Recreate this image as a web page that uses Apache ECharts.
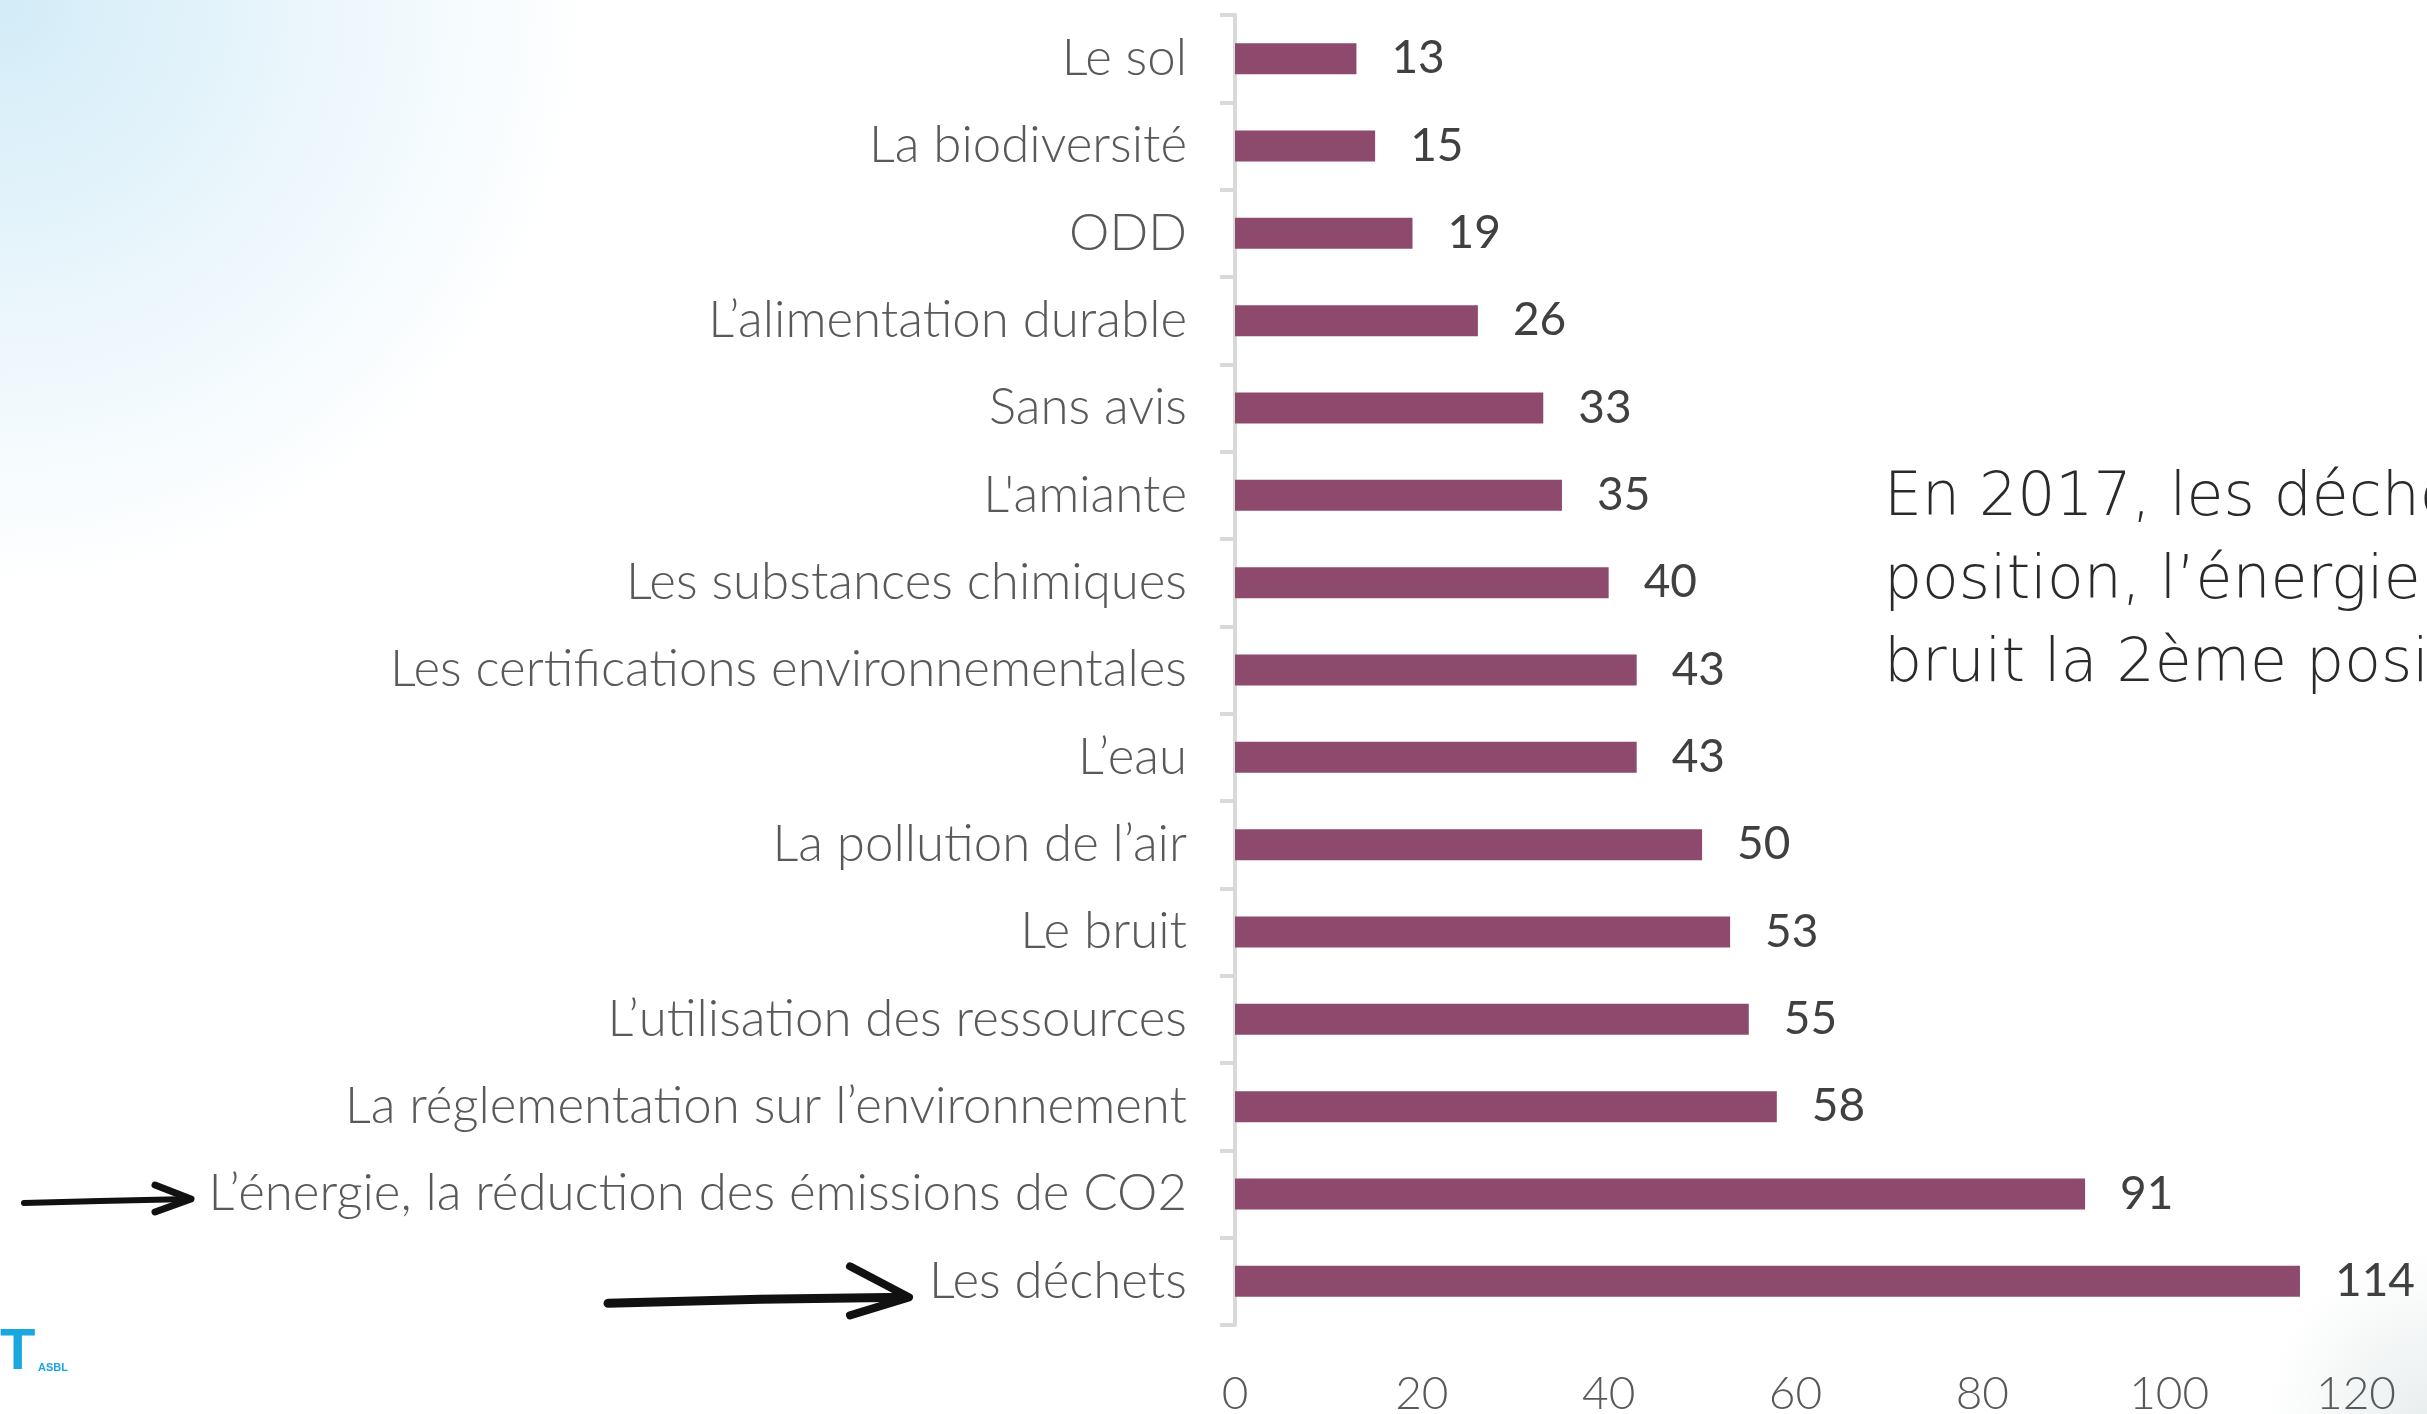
<!DOCTYPE html>
<html>
<head>
<meta charset="utf-8">
<script src="https://cdn.jsdelivr.net/npm/echarts@6/dist/echarts.min.js"></script>
<style>
  html, body { margin: 0; padding: 0; }
  body {
    width: 2427px;
    height: 1414px;
    background:
      radial-gradient(circle at 0 0, #d3ecf8 0, rgba(255,255,255,0) 590px),
      radial-gradient(circle at 100% 100%, #e9eeee 0, rgba(255,255,255,0) 160px),
      #ffffff;
  }
  #chart { width: 2427px; height: 1414px; }
</style>
</head>
<body>
<div id="chart"></div>
<script>
// thèmes environnementaux, du haut vers le bas
const categories = [
  'Le sol',
  'La biodiversité',
  'ODD',
  'L’alimentation durable',
  'Sans avis',
  "L'amiante",
  'Les substances chimiques',
  'Les certifications environnementales',
  'L’eau',
  'La pollution de l’air',
  'Le bruit',
  'L’utilisation des ressources',
  'La réglementation sur l’environnement',
  'L’énergie, la réduction des émissions de CO2',
  'Les déchets'
]
const values = [13, 15, 19, 26, 33, 35, 40, 43, 43, 50, 53, 55, 58, 91, 114]

const xMin = 0
const xMax = 120
const xStep = 20

const noteLines = [
  'En 2017, les déchets',
  'position, l’énergie',
  'bruit la 2ème position'
]

const barColor = '#8E4A6D'
const labelFont = 'Lato, "Open Sans", sans-serif'

const chart = echarts.init(document.getElementById('chart'), null, { renderer: 'canvas' })

const option = {
  backgroundColor: 'transparent',
  animation: false,
  grid: {
    left: 1235,
    right: 71,
    top: 15,
    bottom: 89,
    // pas de réduction automatique de la grille (v6)
    outerBoundsMode: 'none'
  },
  xAxis: {
    type: 'value',
    min: xMin,
    max: xMax,
    interval: xStep,
    axisLine: { show: false },
    axisTick: { show: false },
    splitLine: { show: false },
    axisLabel: {
      margin: 46,
      color: '#595959',
      fontSize: 46,
      fontWeight: 300,
      fontFamily: labelFont
    }
  },
  yAxis: {
    type: 'category',
    inverse: true,
    data: categories,
    axisLine: {
      show: true,
      lineStyle: { color: '#d9d9d9', width: 4 }
    },
    axisTick: {
      show: true,
      length: 15,
      lineStyle: { color: '#d9d9d9', width: 4 }
    },
    axisLabel: {
      margin: 48,
      color: '#595959',
      fontSize: 51,
      fontWeight: 300,
      fontFamily: labelFont
    }
  },
  series: [
    {
      type: 'bar',
      data: values,
      barWidth: 31,
      itemStyle: { color: barColor },
      label: {
        show: true,
        position: 'right',
        distance: 35,
        color: '#404040',
        fontSize: 46,
        fontFamily: labelFont
      }
    }
  ]
}

chart.setOption(option)

// annotations : flèches dessinées à la main, texte de droite, logo
const yEnergie = chart.convertToPixel({ yAxisIndex: 0 }, categories[13])
const yDechets = chart.convertToPixel({ yAxisIndex: 0 }, categories[14])

const arrowStyle = { stroke: '#111111', fill: null, lineCap: 'round', lineJoin: 'round' }

chart.setOption({
  graphic: [
    {
      type: 'polyline',
      shape: { points: [[24, yEnergie + 9], [100, yEnergie + 7], [190, yEnergie + 5]] },
      style: Object.assign({}, arrowStyle, { lineWidth: 6 })
    },
    {
      type: 'polyline',
      shape: { points: [[155, yEnergie - 9], [191, yEnergie + 5], [155, yEnergie + 18]] },
      style: Object.assign({}, arrowStyle, { lineWidth: 7 })
    },
    {
      type: 'polyline',
      shape: { points: [[608, yDechets + 22], [760, yDechets + 18], [906, yDechets + 16]] },
      style: Object.assign({}, arrowStyle, { lineWidth: 9 })
    },
    {
      type: 'polyline',
      shape: { points: [[850, yDechets - 15], [909, yDechets + 16], [850, yDechets + 34]] },
      style: Object.assign({}, arrowStyle, { lineWidth: 8 })
    },
    {
      type: 'group',
      left: 1884,
      top: 469,
      children: noteLines.map((t, i) => ({
        type: 'text',
        x: 0,
        y: i * 83,
        style: {
          text: t,
          fill: '#2a2a2a',
          fontSize: 60,
          fontWeight: 300,
          fontFamily: '"DejaVu Sans", sans-serif'
        }
      }))
    },
    {
      type: 'text',
      left: 0,
      top: 1324,
      style: {
        text: 'T',
        fill: '#1aa7df',
        fontSize: 58,
        fontWeight: 'bold',
        fontFamily: '"Liberation Sans Narrow", "Liberation Sans", sans-serif'
      }
    },
    {
      type: 'text',
      left: 38,
      top: 1362,
      style: {
        text: 'ASBL',
        fill: '#1aa7df',
        fontSize: 11,
        fontWeight: 'bold',
        fontFamily: '"Liberation Sans Narrow", "Liberation Sans", sans-serif'
      }
    }
  ]
})

window.addEventListener('resize', () => {
  chart.resize()
})
</script>
</body>
</html>
